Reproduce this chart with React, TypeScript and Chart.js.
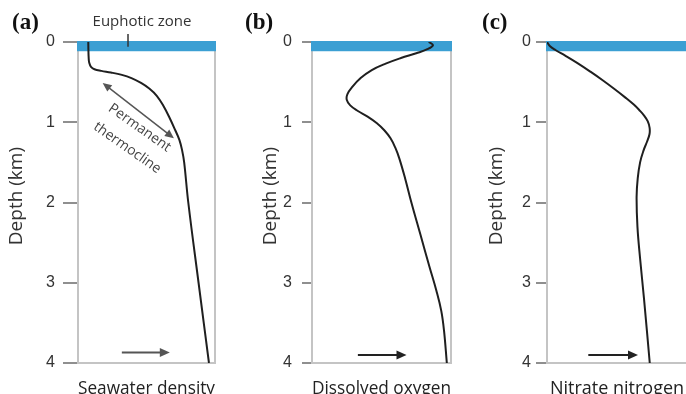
import React, { useEffect, useRef } from "react";
import { Chart, registerables } from "chart.js";

Chart.register(...registerables);

// ---- data ----
const depthTicks = [0, 1, 2, 3, 4];

const densityDepth = [0, 0.1, 0.2, 0.26, 0.31, 0.34, 0.36, 0.38, 0.41, 0.45, 0.51, 0.58, 0.67, 0.8, 0.95, 1.1, 1.22, 1.35, 1.5, 2, 3, 4];
const densityValue = [0.075, 0.076, 0.078, 0.082, 0.095, 0.12, 0.17, 0.24, 0.32, 0.39, 0.46, 0.52, 0.575, 0.625, 0.67, 0.71, 0.74, 0.76, 0.775, 0.805, 0.88, 0.956];

const oxygenDepth = [0, 0.04, 0.09, 0.14, 0.2, 0.27, 0.35, 0.45, 0.56, 0.65, 0.72, 0.79, 0.86, 0.93, 1.01, 1.1, 1.2, 1.32, 1.45, 1.7, 2.0, 2.4, 2.8, 3.1, 3.35, 3.6, 4];
const oxygenValue = [0.84, 0.87, 0.83, 0.75, 0.64, 0.53, 0.43, 0.35, 0.29, 0.255, 0.25, 0.275, 0.33, 0.4, 0.465, 0.52, 0.565, 0.6, 0.628, 0.67, 0.715, 0.78, 0.845, 0.895, 0.93, 0.95, 0.97];

const nitrateDepth = [0, 0.05, 0.1, 0.17, 0.26, 0.37, 0.48, 0.58, 0.69, 0.78, 0.85, 0.92, 0.99, 1.07, 1.15, 1.24, 1.35, 1.5, 1.7, 1.93, 2.3, 2.7, 3.2, 4];
const nitrateValue = [0, 0.02, 0.06, 0.13, 0.215, 0.31, 0.4, 0.477, 0.558, 0.62, 0.66, 0.695, 0.72, 0.733, 0.732, 0.715, 0.69, 0.665, 0.648, 0.64, 0.646, 0.665, 0.693, 0.734];

const panelTags = ["(a)", "(b)", "(c)"];
const panelTitles = ["Seawater density", "Dissolved oxygen", "Nitrate nitrogen"];
const yTitle = "Depth (km)";
const euphoticLabel = "Euphotic zone";
const thermoclineLabel = ["Permanent", "thermocline"];
const euphoticDepth = 0.115;

type Spec = {
  left: number;
  width: number;
  yAxisWidth: number;
  padRight: number;
  tickLength: number;
  tickPad: number;
  titleX: number;
  tag: string;
  tagX: number;
  xTitle: string;
  depth: number[];
  values: number[];
  arrow: [number, number, number];
  arrowColor: string;
  extras: boolean;
};

const specs: Spec[] = [
  {
    left: 0, width: 228, yAxisWidth: 78, padRight: 13, tickLength: 15, tickPad: 8, titleX: 17,
    tag: panelTags[0], tagX: 12, xTitle: panelTitles[0], depth: densityDepth, values: densityValue,
    arrow: [0.32, 0.67, 3.87], arrowColor: "#555", extras: true,
  },
  {
    left: 228, width: 228, yAxisWidth: 84, padRight: 5, tickLength: 10, tickPad: 10, titleX: 43,
    tag: panelTags[1], tagX: 17, xTitle: panelTitles[1], depth: oxygenDepth, values: oxygenValue,
    arrow: [0.33, 0.68, 3.9], arrowColor: "#222", extras: false,
  },
  {
    left: 456, width: 232, yAxisWidth: 91, padRight: 1, tickLength: 11, tickPad: 5, titleX: 41,
    tag: panelTags[2], tagX: 26, xTitle: panelTitles[2], depth: nitrateDepth, values: nitrateValue,
    arrow: [0.295, 0.65, 3.9], arrowColor: "#222", extras: false,
  },
];

const SANS = '"Open Sans", "DejaVu Sans", sans-serif';

function head(ctx: CanvasRenderingContext2D, x: number, y: number, ang: number, len: number, half: number) {
  ctx.save();
  ctx.translate(x, y);
  ctx.rotate(ang);
  ctx.beginPath();
  ctx.moveTo(0, 0);
  ctx.lineTo(-len, -half);
  ctx.lineTo(-len, half);
  ctx.closePath();
  ctx.fill();
  ctx.restore();
}

function makePlugin(spec: Spec) {
  return {
    id: "decor" + spec.tag,
    beforeDatasetsDraw(chart: any) {
      const { ctx, chartArea } = chart;
      const y = chart.scales.y;
      const y0 = y.getPixelForValue(0) - 1;
      const y1 = y.getPixelForValue(euphoticDepth);
      ctx.save();
      ctx.fillStyle = "#3b9fd3";
      ctx.fillRect(chartArea.left - 1, y0, chartArea.right - chartArea.left + 2, y1 - y0);
      ctx.restore();
    },
    afterDraw(chart: any) {
      const { ctx, chartArea } = chart;
      const xs = chart.scales.x;
      const ys = chart.scales.y;
      ctx.save();
      // y-axis title
      ctx.save();
      ctx.fillStyle = "#333";
      ctx.font = "19px " + SANS;
      ctx.textAlign = "center";
      ctx.textBaseline = "middle";
      ctx.translate(spec.titleX, ys.getPixelForValue(1.92));
      ctx.rotate(-Math.PI / 2);
      ctx.fillText(yTitle, 0, 0);
      ctx.restore();

      // panel tag
      ctx.fillStyle = "#111";
      ctx.font = 'bold 23px "Liberation Serif", serif';
      ctx.textBaseline = "alphabetic";
      ctx.textAlign = "left";
      ctx.fillText(spec.tag, spec.tagX, 29);

      // bottom arrow
      const [a0, a1, ad] = spec.arrow;
      const ax0 = xs.getPixelForValue(a0);
      const ax1 = xs.getPixelForValue(a1);
      const ay = ys.getPixelForValue(ad);
      ctx.strokeStyle = spec.arrowColor;
      ctx.fillStyle = spec.arrowColor;
      ctx.lineWidth = 2;
      ctx.beginPath();
      ctx.moveTo(ax0, ay);
      ctx.lineTo(ax1 - 8, ay);
      ctx.stroke();
      head(ctx, ax1, ay, 0, 10, 4.5);

      if (spec.extras) {
        // euphotic zone label
        ctx.fillStyle = "#333";
        ctx.font = "15px " + SANS;
        ctx.textAlign = "center";
        ctx.textBaseline = "middle";
        ctx.fillText(euphoticLabel, xs.getPixelForValue(0.467), chartArea.top - 20);
        const ex = xs.getPixelForValue(0.365);
        ctx.strokeStyle = "#333";
        ctx.lineWidth = 1.5;
        ctx.beginPath();
        ctx.moveTo(ex, chartArea.top - 8);
        ctx.lineTo(ex, ys.getPixelForValue(0.06));
        ctx.stroke();

        // double arrow
        const p0x = xs.getPixelForValue(0.18), p0y = ys.getPixelForValue(0.51);
        const p1x = xs.getPixelForValue(0.7), p1y = ys.getPixelForValue(1.2);
        const ang = Math.atan2(p1y - p0y, p1x - p0x);
        ctx.strokeStyle = "#555";
        ctx.fillStyle = "#555";
        ctx.lineWidth = 1.5;
        ctx.beginPath();
        ctx.moveTo(p0x + Math.cos(ang) * 6, p0y + Math.sin(ang) * 6);
        ctx.lineTo(p1x - Math.cos(ang) * 6, p1y - Math.sin(ang) * 6);
        ctx.stroke();
        head(ctx, p1x, p1y, ang, 9, 4);
        head(ctx, p0x, p0y, ang + Math.PI, 9, 4);

        // rotated text
        ctx.fillStyle = "#444";
        ctx.font = "14px " + SANS;
        ctx.textAlign = "center";
        ctx.textBaseline = "middle";
        const rot = (35 * Math.PI) / 180;
        const t1x = xs.getPixelForValue(0.45), t1y = ys.getPixelForValue(1.07);
        ctx.save();
        ctx.translate(t1x, t1y);
        ctx.rotate(rot);
        ctx.fillText(thermoclineLabel[0], 0, 0);
        ctx.restore();
        const t2x = xs.getPixelForValue(0.36), t2y = ys.getPixelForValue(1.32);
        ctx.save();
        ctx.translate(t2x, t2y);
        ctx.rotate(rot);
        ctx.fillText(thermoclineLabel[1], 0, 0);
        ctx.restore();
      }
      ctx.restore();
    },
  };
}

function Panel({ spec }: { spec: Spec }) {
  const ref = useRef<HTMLCanvasElement | null>(null);
  useEffect(() => {
    if (!ref.current) return;
    const chart = new Chart(ref.current, {
      type: "line",
      data: {
        datasets: [
          {
            data: spec.depth.map((d, i) => ({ x: spec.values[i], y: d })),
            borderColor: "#1f1f1f",
            borderWidth: 2,
            pointRadius: 0,
            fill: false,
            tension: 0.4,
          } as any,
        ],
      },
      options: {
        responsive: false,
        animation: false,
        indexAxis: "y",
        devicePixelRatio: 1,
        layout: { padding: { top: 42, left: 0, right: spec.padRight, bottom: 0 } },
        plugins: { legend: { display: false }, tooltip: { enabled: false } },
        scales: {
          x: {
            type: "linear",
            position: "bottom",
            min: 0,
            max: 1,
            afterFit: (s: any) => {
              s.height = 31;
            },
            ticks: { display: false },
            grid: { drawOnChartArea: false, drawTicks: false },
            border: { color: "#c4c4c4", width: 2 },
            title: {
              display: true,
              text: spec.xTitle,
              color: "#222",
              font: { family: SANS, size: 18, lineHeight: 1 },
              padding: { top: 0, bottom: -4 },
            },
          },
          y: {
            type: "linear",
            position: "left",
            reverse: true,
            min: 0,
            max: 4,
            afterFit: (s: any) => {
              s.width = spec.yAxisWidth;
            },
            afterBuildTicks: (s: any) => {
              s.ticks = depthTicks.map((v) => ({ value: v }));
            },
            ticks: {
              color: "#333",
              font: { family: '"Liberation Sans", Arial, sans-serif', size: 16 },
              padding: spec.tickPad,
              autoSkip: false,
            },
            grid: { drawOnChartArea: false, drawTicks: true, tickLength: spec.tickLength, color: "#8f8f8f", lineWidth: 2 },
            border: { color: "#c4c4c4", width: 2 },
            title: { display: false },
          },
          y2: {
            type: "linear",
            position: "right",
            min: 0,
            max: 4,
            afterFit: (s: any) => {
              s.width = 0;
            },
            ticks: { display: false },
            grid: { drawOnChartArea: false, drawTicks: false },
            border: { color: "#c4c4c4", width: 2 },
          },
        },
      } as any,
      plugins: [makePlugin(spec)],
    });
    return () => chart.destroy();
  }, [spec]);
  return (
    <canvas
      ref={ref}
      width={spec.width}
      height={394}
      style={{ position: "absolute", left: spec.left, top: 0, width: spec.width, height: 394 }}
    />
  );
}

export default function App() {
  return (
    <div
      style={{
        position: "fixed",
        left: 0,
        top: 0,
        width: 686,
        height: 394,
        overflow: "hidden",
        background: "#fff",
      }}
    >
      {specs.map((s) => (
        <Panel key={s.tag} spec={s} />
      ))}
    </div>
  );
}
